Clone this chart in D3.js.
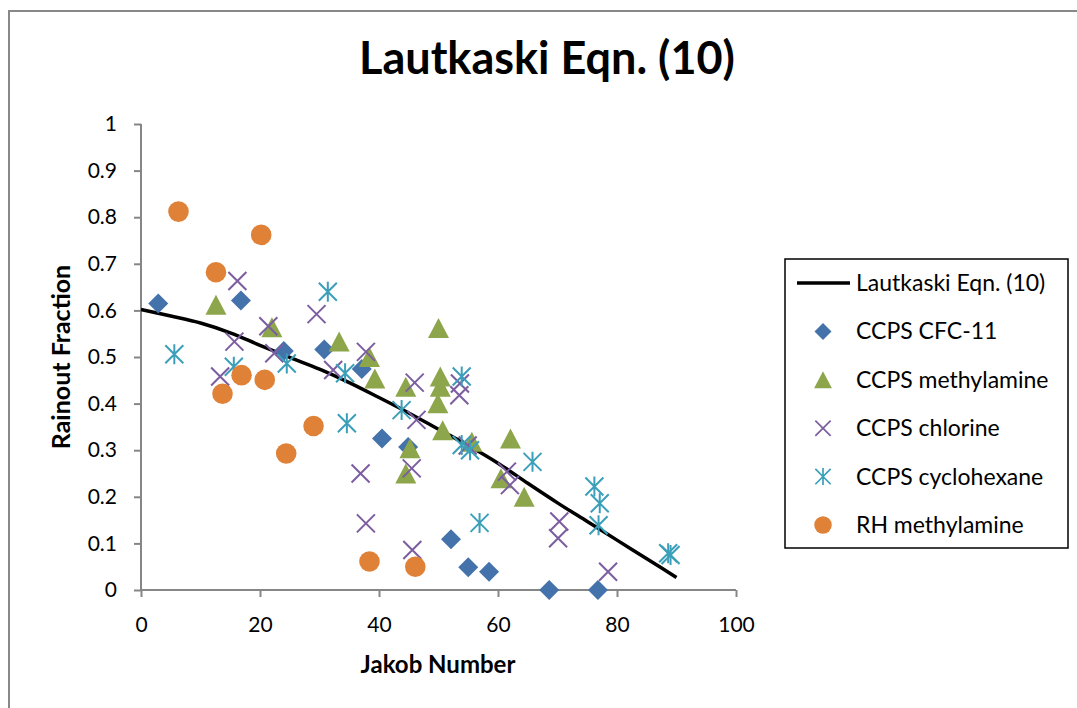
<!DOCTYPE html>
<html>
<head>
<meta charset="utf-8">
<script src="https://cdn.jsdelivr.net/npm/d3@7"></script>
<style>
  html, body { margin: 0; padding: 0; background: #fff; }
  svg { display: block; }
  text { font-family: Lato, "Open Sans", "DejaVu Sans", sans-serif; fill: #000; }
</style>
</head>
<body>
<svg id="chart" width="1077" height="708"></svg>
<script>
// ---------- data ----------
const title = "Lautkaski Eqn. (10)";
const xLabel = "Jakob Number";
const yLabel = "Rainout Fraction";
const xTicks = [0, 20, 40, 60, 80, 100];
const yTicks = [0, 0.1, 0.2, 0.3, 0.4, 0.5, 0.6, 0.7, 0.8, 0.9, 1];

const lautkaskiLine = [
  [0, 0.602], [5, 0.588], [10, 0.573], [15, 0.552], [20, 0.525], [25, 0.499],
  [30, 0.474], [35, 0.445], [40, 0.413], [45, 0.380], [50, 0.345], [55, 0.310],
  [60, 0.272], [65, 0.229], [70, 0.187], [75, 0.147], [80, 0.107], [85, 0.067], [90, 0.027]
];
const ccpsCFC11 = [
  [2.9, 0.615], [16.8, 0.621], [24.0, 0.513], [30.8, 0.516], [37.1, 0.474],
  [40.5, 0.325], [44.9, 0.307], [52.1, 0.109], [55.0, 0.049], [58.5, 0.039],
  [68.6, 0.0], [76.8, 0.0]
];
const ccpsMethylamine = [
  [12.6, 0.612], [22.0, 0.564], [33.3, 0.533], [38.4, 0.500], [39.3, 0.454],
  [44.5, 0.436], [50.0, 0.562], [50.3, 0.458], [50.3, 0.436], [49.9, 0.401],
  [50.7, 0.343], [55.6, 0.318], [62.1, 0.325], [45.2, 0.304], [44.5, 0.250],
  [60.5, 0.240], [64.4, 0.200]
];
const ccpsChlorine = [
  [16.2, 0.663], [21.4, 0.566], [29.5, 0.592], [15.7, 0.533], [13.3, 0.458],
  [22.4, 0.508], [32.3, 0.472], [37.8, 0.511], [46.0, 0.445], [46.3, 0.365],
  [53.6, 0.443], [53.5, 0.418], [54.9, 0.310], [36.9, 0.250], [45.5, 0.261],
  [37.8, 0.143], [45.6, 0.086], [61.5, 0.254], [62.0, 0.225], [70.3, 0.147],
  [70.1, 0.111], [78.5, 0.039]
];
const ccpsCyclohexane = [
  [5.6, 0.506], [15.6, 0.479], [24.5, 0.486], [31.4, 0.640], [34.3, 0.465],
  [34.6, 0.358], [43.8, 0.386], [53.9, 0.458], [53.9, 0.311], [55.3, 0.300],
  [56.9, 0.144], [65.8, 0.275], [76.2, 0.222], [77.1, 0.186], [76.9, 0.139],
  [88.6, 0.079], [89.0, 0.075]
];
const rhMethylamine = [
  [6.3, 0.812], [20.2, 0.762], [12.6, 0.682], [16.9, 0.461], [20.8, 0.451],
  [13.7, 0.421], [29.0, 0.352], [24.4, 0.293], [38.4, 0.061], [46.1, 0.050]
];

const seriesNames = ["CCPS CFC-11", "CCPS methylamine", "CCPS chlorine", "CCPS cyclohexane", "RH methylamine"];

// ---------- styles ----------
const styles = {
  "CCPS CFC-11":      { shape: "diamond",  color: "#4472AA" },
  "CCPS methylamine": { shape: "triangle", color: "#8DA64B" },
  "CCPS chlorine":    { shape: "x",        color: "#7B5DA0" },
  "CCPS cyclohexane": { shape: "star",     color: "#3C9FB9" },
  "RH methylamine":   { shape: "circle",   color: "#E08138" }
};
const seriesData = {
  "CCPS CFC-11": ccpsCFC11,
  "CCPS methylamine": ccpsMethylamine,
  "CCPS chlorine": ccpsChlorine,
  "CCPS cyclohexane": ccpsCyclohexane,
  "RH methylamine": rhMethylamine
};

const svg = d3.select("#chart");
const W = 1077, H = 708;
const plot = { left: 141, right: 736, top: 124, bottom: 590 };

// outer chart border
svg.append("rect").attr("x", 9).attr("y", 11).attr("width", W + 20).attr("height", H + 20)
  .attr("fill", "#fff").attr("stroke", "#888").attr("stroke-width", 2);

const x = d3.scaleLinear().domain([0, 100]).range([plot.left, plot.right]);
const y = d3.scaleLinear().domain([0, 1]).range([plot.bottom, plot.top]);

// axes
const axisColor = "#868686";
const gx = svg.append("g").attr("transform", `translate(0,${plot.bottom})`)
  .call(d3.axisBottom(x).tickValues(xTicks).tickSize(7).tickPadding(20).tickFormat(d3.format("d")));
const gy = svg.append("g").attr("transform", `translate(${plot.left},0)`)
  .call(d3.axisLeft(y).tickValues(yTicks).tickSize(7).tickPadding(17).tickFormat(d => d3.format("~g")(d)));
[gx, gy].forEach(g => {
  g.select(".domain").attr("stroke", axisColor).attr("stroke-width", 2);
  g.selectAll(".tick line").attr("stroke", axisColor).attr("stroke-width", 2);
  g.selectAll(".tick text").attr("font-size", 21).attr("fill", "#000")
    .style("font-family", "Lato, 'Open Sans', sans-serif");
});
gx.selectAll(".tick line").attr("y2", 7);
gx.select(".domain").attr("d", `M${plot.left},0H${plot.right}`);
gy.select(".domain").attr("d", `M0,${plot.bottom}V${plot.top}`);

// title & axis labels
svg.append("text").attr("x", 547).attr("y", 74).attr("text-anchor", "middle")
  .attr("font-size", 45).attr("font-weight", 700).text(title);
svg.append("text").attr("x", 438).attr("y", 673).attr("text-anchor", "middle")
  .attr("font-size", 24).attr("font-weight", 700).text(xLabel);
svg.append("text").attr("transform", "translate(70,357) rotate(-90)").attr("text-anchor", "middle")
  .attr("font-size", 25).attr("font-weight", 700).text(yLabel);

// marker drawing
function drawMarker(g, shape, color) {
  if (shape === "diamond") {
    g.append("path").attr("d", "M0,-10L10,0L0,10L-10,0Z").attr("fill", color);
  } else if (shape === "triangle") {
    g.append("path").attr("d", "M0,-10L10.5,10L-10.5,10Z").attr("fill", color);
  } else if (shape === "circle") {
    g.append("circle").attr("r", 10.3).attr("fill", color);
  } else if (shape === "x") {
    g.append("path").attr("d", "M-9,-9L9,9M-9,9L9,-9").attr("stroke", color).attr("stroke-width", 2).attr("fill", "none");
  } else if (shape === "star") {
    g.append("path").attr("d", "M-9,-9L9,9M-9,9L9,-9M0,-10L0,10").attr("stroke", color).attr("stroke-width", 2).attr("fill", "none");
  }
}

// line
const line = d3.line().x(d => x(d[0])).y(d => y(d[1])).curve(d3.curveMonotoneX);
svg.append("path").datum(lautkaskiLine).attr("d", line)
  .attr("fill", "none").attr("stroke", "#000").attr("stroke-width", 3.5);

// points
seriesNames.forEach(name => {
  const st = styles[name];
  seriesData[name].forEach(d => {
    const g = svg.append("g").attr("transform", `translate(${x(d[0])},${y(d[1])})`);
    drawMarker(g, st.shape, st.color);
  });
});

// legend
const lg = svg.append("g");
lg.append("rect").attr("x", 785).attr("y", 259).attr("width", 283).attr("height", 289)
  .attr("fill", "#fff").attr("stroke", "#000").attr("stroke-width", 1.5);
const rowY = d3.scalePoint().domain(["Lautkaski Eqn. (10)", ...seriesNames]).range([283, 525]);
lg.append("line").attr("x1", 797).attr("x2", 850).attr("y1", rowY(title)).attr("y2", rowY(title))
  .attr("stroke", "#000").attr("stroke-width", 3.5);
lg.append("text").attr("x", 856).attr("y", rowY(title)).attr("dy", "0.35em")
  .attr("font-size", 23).text(title);
seriesNames.forEach(name => {
  const g = lg.append("g").attr("transform", `translate(823,${rowY(name)}) scale(0.85)`);
  drawMarker(g, styles[name].shape, styles[name].color);
  lg.append("text").attr("x", 856).attr("y", rowY(name)).attr("dy", "0.35em")
    .attr("font-size", 23).text(name);
});
</script>
</body>
</html>
